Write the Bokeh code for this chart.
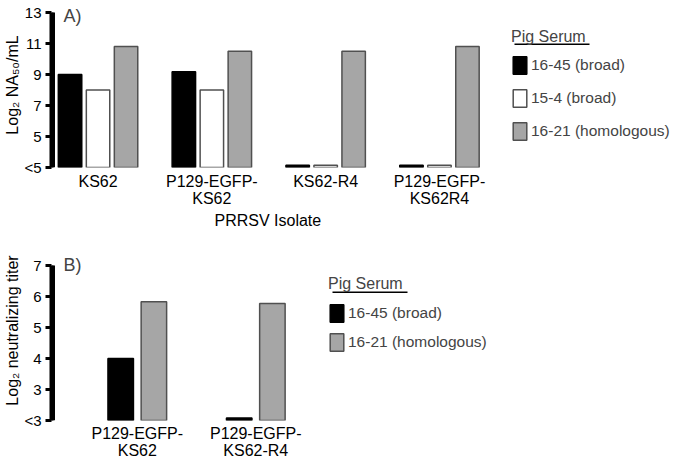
import numpy as np
from bokeh.plotting import figure
from bokeh.models import (ColumnDataSource, Range1d, FixedTicker, Legend, LegendItem,
                          Label, BoxAnnotation, Title)
from bokeh.layouts import column
from bokeh.transform import dodge
from bokeh.embed import file_html
from bokeh.resources import INLINE

# ---------------- data: panel A ----------------
isolates_a = ["KS62", "P129-EGFP-\nKS62", "KS62-R4", "P129-EGFP-\nKS62R4"]
serum_a = ["16-45 (broad)", "15-4 (broad)", "16-21 (homologous)"]
na50_16_45 = [9.0, 9.17, 3.15, 3.15]
na50_15_4 = [8.0, 8.0, 3.15, 3.15]
na50_16_21 = [10.8, 10.5, 10.5, 10.8]
ticks_a = [3, 5, 7, 9, 11, 13]
tick_labels_a = ["<5", "5", "7", "9", "11", "13"]

# ---------------- data: panel B ----------------
isolates_b = ["P129-EGFP-\nKS62", "P129-EGFP-\nKS62-R4"]
serum_b = ["16-45 (broad)", "16-21 (homologous)"]
nt_16_45 = [4.0, 2.08]
nt_16_21 = [5.83, 5.78]
ticks_b = [2, 3, 4, 5, 6, 7]
tick_labels_b = ["<3", "3", "4", "5", "6", "7"]

FONT = "Liberation Sans"
FILLS = {"16-45 (broad)": "black", "15-4 (broad)": "white", "16-21 (homologous)": "#a6a6a6"}
LINES = {"16-45 (broad)": "black", "15-4 (broad)": "#505050", "16-21 (homologous)": "#505050"}


def style_axes(p, ticks, tick_labels, n_groups, group_labels, ylabel, x_standoff):
    ya = p.yaxis[0]
    ya.ticker = FixedTicker(ticks=ticks)
    ya.major_label_overrides = dict(zip(ticks, tick_labels))
    ya.bounds = (ticks[0], ticks[-1])
    ya.axis_line_width = 4
    ya.axis_line_color = "black"
    ya.major_tick_line_width = 3
    ya.major_tick_line_color = "black"
    ya.major_tick_out = 6
    ya.major_tick_in = 0
    ya.minor_tick_line_color = None
    ya.major_label_text_font = FONT
    ya.major_label_text_font_size = "15px"
    ya.major_label_text_color = "black"
    ya.major_label_standoff = 4
    ya.axis_label = ylabel
    ya.axis_label_text_font = FONT
    ya.axis_label_text_font_size = "16px"
    ya.axis_label_text_font_style = "normal"
    ya.axis_label_text_color = "black"
    ya.axis_label_standoff = 0

    # thick axis rule as a filled box along the frame's left edge, spanning the tick range
    p.add_layout(BoxAnnotation(left=0, right=3.5, left_units="screen", right_units="screen",
                               bottom=ticks[0], top=ticks[-1],
                               fill_color="black", fill_alpha=1, line_color=None))

    xa = p.xaxis[0]
    xa.ticker = FixedTicker(ticks=list(range(n_groups)))
    xa.major_label_overrides = {i: lab for i, lab in enumerate(group_labels)}
    xa.axis_line_alpha = 0
    xa.major_tick_line_alpha = 0
    xa.minor_tick_line_alpha = 0
    xa.major_tick_out = 0
    xa.major_tick_in = 0
    xa.major_label_text_font = FONT
    xa.major_label_text_font_size = "16px"
    xa.major_label_text_color = "black"
    xa.major_label_text_line_height = 1.0
    xa.major_label_standoff = x_standoff

    p.grid.visible = False
    p.outline_line_color = None
    p.background_fill_color = None


def make_legend(p, items, x, y, glyph_h, spacing, title_standoff, ul_left, ul_y):
    leg = Legend(items=items, location=(x, y), title="Pig Serum",
                 title_text_font=FONT, title_text_font_size="16px",
                 title_text_font_style="normal", title_standoff=title_standoff,
                 label_text_font=FONT, label_text_font_size="15.5px",
                 glyph_width=17, glyph_height=glyph_h, label_height=glyph_h,
                 label_standoff=3, spacing=spacing, padding=0, margin=0,
                 border_line_color=None, background_fill_alpha=0)
    p.add_layout(leg)
    underline = BoxAnnotation(left=ul_left, right=ul_left + 75, bottom=ul_y - 1.5, top=ul_y,
                              left_units="screen", right_units="screen",
                              bottom_units="screen", top_units="screen",
                              fill_color="black", fill_alpha=1, line_color=None)
    p.add_layout(underline)


# ---------------- panel A ----------------
pA = figure(width=680, height=238, output_backend="svg", toolbar_location=None,
            x_range=Range1d(-0.409, 5.118), y_range=Range1d(3, 13.645),
            min_border_left=51, min_border_right=0, min_border_top=2, min_border_bottom=71)
style_axes(pA, ticks_a, tick_labels_a, len(isolates_a), isolates_a, "Log₂ NA₅₀/mL", 5)

src_a = ColumnDataSource(dict(x=list(range(len(isolates_a))),
                              s0=na50_16_45, s1=na50_15_4, s2=na50_16_21))
offsets_a = [-0.246, 0.0, 0.246]
items_a = []
for i, name in enumerate(serum_a):
    r = pA.vbar(x=dodge("x", offsets_a[i]), top=f"s{i}", bottom=3, width=0.206,
                source=src_a, fill_color=FILLS[name], line_color=LINES[name], line_width=1.5)
    items_a.append(LegendItem(label=name, renderers=[r]))
make_legend(pA, items_a, 460, 25, 22, 11, 8, 463, 124)

pA.add_layout(Label(x=12, y=152, x_units="screen", y_units="screen", text="A)",
                    text_font=FONT, text_font_size="18px", text_baseline="middle"))
pA.add_layout(Title(text="PRRSV Isolate", align="left", offset=163, standoff=0,
                    text_font=FONT, text_font_size="16px", text_font_style="normal",
                    text_color="black"),
              "below")

# ---------------- panel B ----------------
pB = figure(width=680, height=223, output_backend="svg", toolbar_location=None,
            x_range=Range1d(-0.724, 4.584), y_range=Range1d(2, 7.81),
            min_border_left=51, min_border_right=0, min_border_top=2, min_border_bottom=41)
style_axes(pB, ticks_b, tick_labels_b, len(isolates_b), isolates_b, "Log₂ neutralizing titer", 4)

src_b = ColumnDataSource(dict(x=list(range(len(isolates_b))), s0=nt_16_45, s1=nt_16_21))
offsets_b = [-0.14, 0.14]
items_b = []
for i, name in enumerate(serum_b):
    r = pB.vbar(x=dodge("x", offsets_b[i]), top=f"s{i}", bottom=2, width=0.215,
                source=src_b, fill_color=FILLS[name], line_color=LINES[name], line_width=1.5)
    items_b.append(LegendItem(label=name, renderers=[r]))
make_legend(pB, items_b, 277, 67, 22, 7, 9, 281, 129)

pB.add_layout(Label(x=12, y=156, x_units="screen", y_units="screen", text="B)",
                    text_font=FONT, text_font_size="18px", text_baseline="middle"))

layout = column(pA, pB, spacing=0)
with open("out.html", "w") as f:
    f.write(file_html(layout, INLINE))
